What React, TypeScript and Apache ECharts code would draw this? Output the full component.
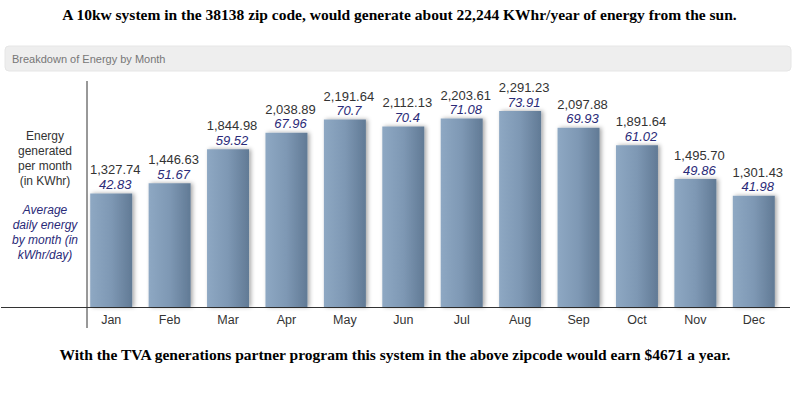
import React, { useEffect, useRef } from "react";
import * as echarts from "echarts";

const months = ["Jan", "Feb", "Mar", "Apr", "May", "Jun", "Jul", "Aug", "Sep", "Oct", "Nov", "Dec"];
const monthlyEnergy = [1327.74, 1446.63, 1844.98, 2038.89, 2191.64, 2112.13, 2203.61, 2291.23, 2097.88, 1891.64, 1495.7, 1301.43];
const dailyEnergy = ["42.83", "51.67", "59.52", "67.96", "70.7", "70.4", "71.08", "73.91", "69.93", "61.02", "49.86", "41.98"];

const titleText = "A 10kw system in the 38138 zip code, would generate about 22,244 KWhr/year of energy from the sun.";
const footerText = "With the TVA generations partner program this system in the above zipcode would earn $4671 a year.";
const panelTitle = "Breakdown of Energy by Month";
const leftLabel1 = ["Energy", "generated", "per month", "(in KWhr)"];
const leftLabel2 = ["Average", "daily energy", "by month (in", "kWhr/day)"];

const fmt = (v: number) =>
  v.toLocaleString("en-US", { minimumFractionDigits: 2, maximumFractionDigits: 2 });

export default function App() {
  const ref = useRef<HTMLDivElement>(null);
  useEffect(() => {
    if (!ref.current) return;
    const chart = echarts.init(ref.current, undefined, { renderer: "svg" });
    const sans = "Arial, 'Liberation Sans', sans-serif";
    const serif = "'Liberation Serif', 'Times New Roman', serif";
    chart.setOption({
      animation: false,
      backgroundColor: "#ffffff",
      grid: { left: 82, right: 17, top: 80, bottom: 90 },
      xAxis: {
        type: "category",
        data: months,
        axisLine: { show: false },
        axisTick: { show: false },
        axisLabel: { color: "#333333", fontFamily: sans, fontSize: 12.5, margin: 6 },
      },
      yAxis: {
        type: "value",
        min: 0,
        max: 2655,
        show: false,
        splitLine: { show: false },
      },
      graphic: [
        {
          type: "text",
          left: "center",
          top: 6,
          style: { text: titleText, font: `bold 15.5px ${serif}`, fill: "#000000" },
        },
        {
          type: "rect",
          shape: { x: 5, y: 46, width: 786, height: 25, r: 4 },
          style: { fill: "#eeeeee", stroke: "#e6e6e6" },
          z: -1,
        },
        {
          type: "text",
          x: 12,
          y: 59,
          style: { text: panelTitle, font: `11px ${sans}`, fill: "#777777", verticalAlign: "middle" },
        },
        {
          type: "line",
          shape: { x1: 87, y1: 81, x2: 87, y2: 328 },
          style: { stroke: "#333333", lineWidth: 1 },
        },
        {
          type: "line",
          shape: { x1: 1, y1: 307.5, x2: 790, y2: 307.5 },
          style: { stroke: "#333333", lineWidth: 1 },
        },
        {
          type: "text",
          x: 45,
          y: 128,
          style: {
            text: leftLabel1.join("\n"),
            font: `12px ${sans}`,
            fill: "#333333",
            align: "center",
            lineHeight: 15,
          },
        },
        {
          type: "text",
          x: 45,
          y: 202,
          style: {
            text: leftLabel2.join("\n"),
            font: `italic 12px ${sans}`,
            fill: "#2a2a78",
            align: "center",
            lineHeight: 15,
          },
        },
        {
          type: "text",
          x: 395,
          y: 346,
          style: { text: footerText, font: `bold 15.5px ${serif}`, fill: "#000000", align: "center" },
        },
      ],
      series: [
        {
          type: "bar",
          barWidth: 42,
          data: monthlyEnergy,
          itemStyle: {
            color: new echarts.graphic.LinearGradient(0, 0, 1, 0, [
              { offset: 0, color: "#8ea8c3" },
              { offset: 0.5, color: "#7e98b4" },
              { offset: 1, color: "#617a95" },
            ]),
            shadowColor: "rgba(0,0,0,0.35)",
            shadowBlur: 4,
            shadowOffsetX: 2,
          },
          label: {
            show: true,
            position: "top",
            distance: 2,
            offset: [4, 0],
            formatter: (p: any) => `{a|${fmt(monthlyEnergy[p.dataIndex])}}\n{b|${dailyEnergy[p.dataIndex]}}`,
            rich: {
              a: { color: "#333333", fontFamily: sans, fontSize: 13, lineHeight: 15 },
              b: { color: "#2a2a78", fontFamily: sans, fontSize: 13, fontStyle: "italic", lineHeight: 14 },
            },
          },
        },
      ],
    });
    return () => chart.dispose();
  }, []);
  return <div ref={ref} style={{ position: "fixed", left: 0, top: 0, width: 800, height: 397 }} />;
}
